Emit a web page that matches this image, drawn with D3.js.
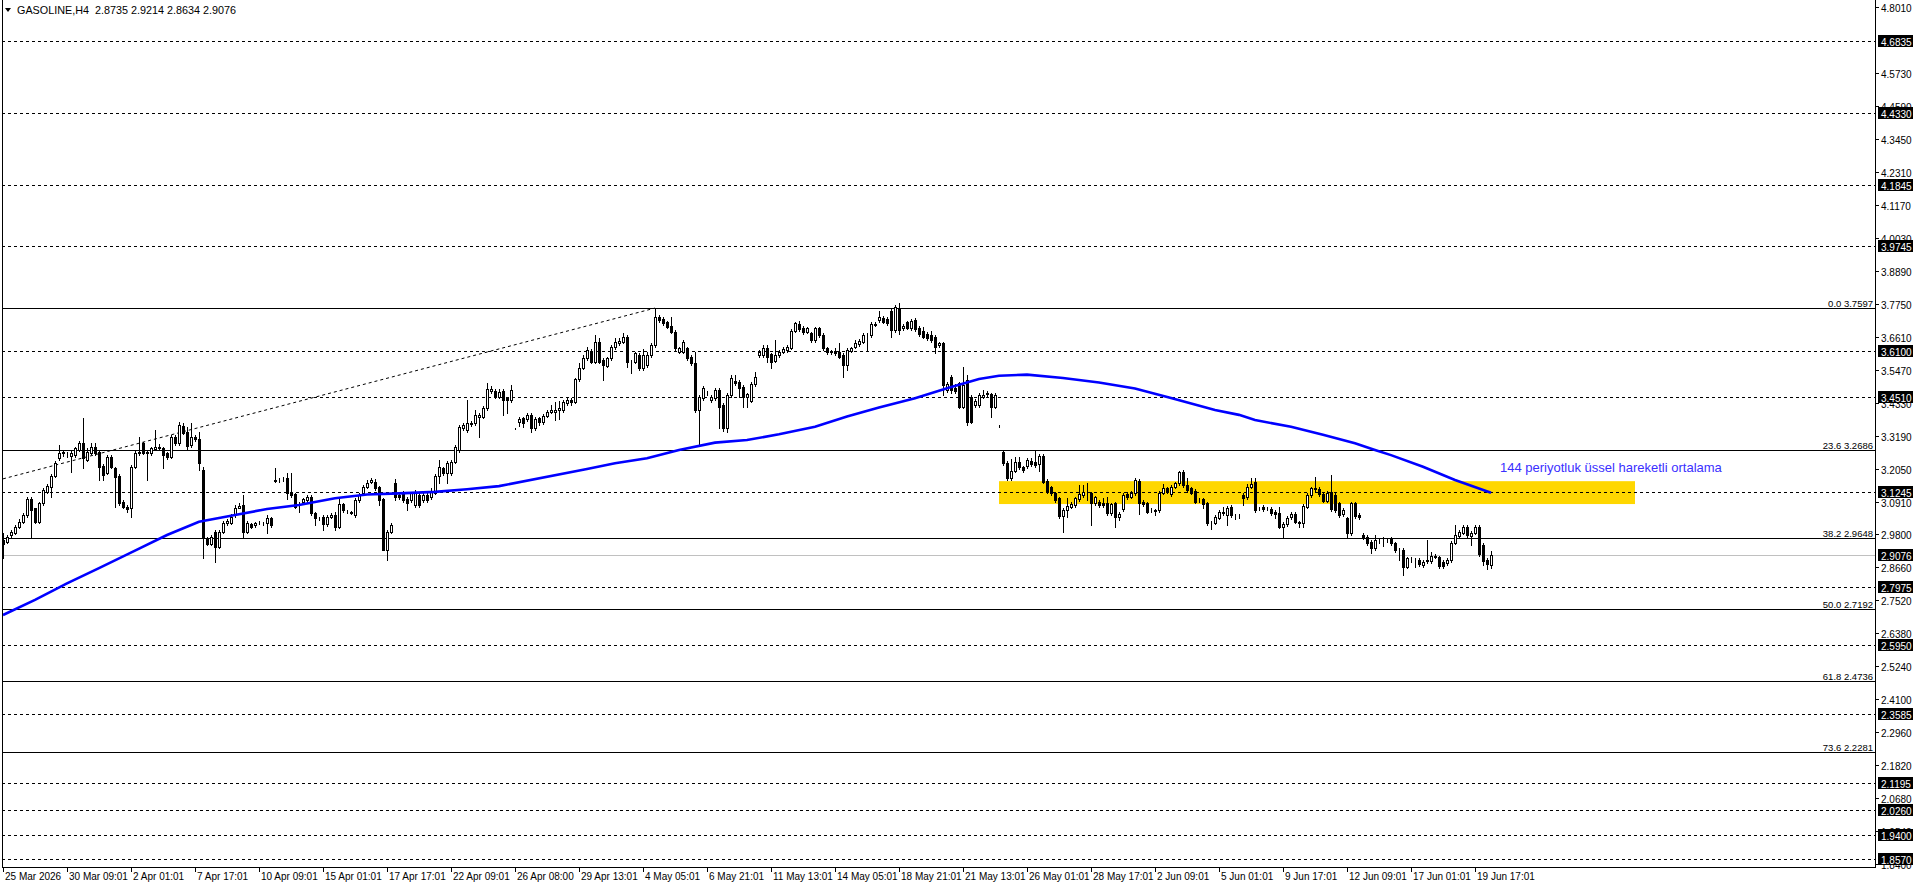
<!DOCTYPE html>
<html>
<head>
<meta charset="utf-8">
<script src="https://cdn.jsdelivr.net/npm/d3@7/dist/d3.min.js"></script>
<style>
body { margin: 0; background: #fff; overflow: hidden; }
svg { display: block; font-family: "Liberation Sans", Arial, sans-serif; }
</style>
</head>
<body>
<svg id="svg" width="1916" height="888"></svg>
<script>
// GASOLINE H4 bars, [open, high, low, close]
var candles = [
[2.959,2.982,2.896,2.945],[2.953,2.976,2.950,2.970],[2.976,2.994,2.970,2.988],[2.982,3.011,2.978,3.005],
[3.005,3.030,3.000,3.022],[3.022,3.053,3.017,3.045],[3.045,3.107,3.040,3.102],[3.102,3.107,2.967,3.062],
[3.068,3.070,3.017,3.022],[3.022,3.090,3.017,3.085],[3.085,3.137,3.080,3.131],[3.126,3.152,3.120,3.145],
[3.143,3.186,3.108,3.180],[3.180,3.232,3.175,3.226],[3.241,3.287,3.235,3.258],[3.264,3.270,3.250,3.258],
[3.254,3.262,3.245,3.252],[3.249,3.270,3.195,3.260],[3.252,3.280,3.247,3.275],[3.270,3.300,3.265,3.295],
[3.295,3.379,3.206,3.241],[3.235,3.275,3.230,3.264],[3.261,3.295,3.255,3.281],[3.281,3.295,3.252,3.258],
[3.264,3.270,3.166,3.212],[3.214,3.220,3.166,3.183],[3.191,3.252,3.186,3.247],[3.247,3.252,3.206,3.212],
[3.206,3.212,3.074,3.178],[3.180,3.186,3.080,3.085],[3.091,3.097,3.068,3.074],[3.074,3.080,3.057,3.065],
[3.068,3.218,3.040,3.212],[3.212,3.270,3.206,3.261],[3.264,3.316,3.252,3.258],[3.293,3.298,3.255,3.261],
[3.264,3.270,3.166,3.258],[3.258,3.281,3.252,3.275],[3.272,3.339,3.268,3.281],[3.281,3.290,3.268,3.275],
[3.275,3.281,3.206,3.252],[3.258,3.264,3.240,3.247],[3.247,3.322,3.241,3.316],[3.316,3.322,3.287,3.293],
[3.293,3.368,3.287,3.356],[3.352,3.362,3.325,3.330],[3.333,3.350,3.270,3.284],[3.287,3.362,3.281,3.316],
[3.313,3.322,3.300,3.306],[3.306,3.333,3.201,3.224],[3.200,3.212,2.896,2.965],[2.965,2.970,2.940,2.945],
[2.945,2.976,2.940,2.970],[2.988,2.994,2.884,2.936],[2.936,2.994,2.930,2.988],[2.988,3.025,2.982,3.019],
[3.017,3.030,3.011,3.025],[3.019,3.050,3.014,3.040],[3.045,3.080,3.040,3.071],[3.071,3.085,3.068,3.078],
[3.080,3.114,2.968,2.988],[2.988,3.025,2.982,3.019],[3.014,3.019,3.000,3.005],[3.011,3.022,3.005,3.017],
[3.017,3.025,3.014,3.019],[3.019,3.022,3.011,3.017],[3.017,3.045,2.982,3.034],[3.034,3.040,3.005,3.011],
[3.166,3.206,3.160,3.164],[3.166,3.172,3.160,3.166],[3.168,3.178,3.164,3.170],[3.172,3.189,3.102,3.120],
[3.122,3.189,3.108,3.114],[3.116,3.122,3.068,3.074],[3.085,3.091,3.057,3.085],[3.091,3.105,3.085,3.099],
[3.097,3.114,3.091,3.106],[3.108,3.114,3.045,3.051],[3.051,3.057,3.010,3.034],[3.034,3.040,3.028,3.034],
[3.040,3.045,2.994,3.014],[3.014,3.045,3.008,3.040],[3.040,3.051,3.034,3.045],[3.045,3.057,2.994,3.005],
[3.005,3.099,2.999,3.083],[3.083,3.088,3.057,3.063],[3.057,3.063,3.051,3.057],[3.054,3.060,3.048,3.053],
[3.045,3.103,3.040,3.097],[3.097,3.120,3.091,3.114],[3.120,3.149,3.114,3.143],[3.143,3.166,3.137,3.155],
[3.160,3.172,3.155,3.166],[3.160,3.170,3.131,3.137],[3.141,3.145,3.080,3.097],[3.099,3.105,2.924,2.924],
[2.924,2.994,2.890,2.988],[2.988,3.019,2.982,3.011],[3.157,3.170,3.097,3.108],[3.114,3.120,3.100,3.108],
[3.122,3.128,3.091,3.097],[3.102,3.106,3.062,3.085],[3.097,3.126,3.091,3.120],[3.080,3.131,3.074,3.126],
[3.114,3.120,3.074,3.080],[3.097,3.120,3.091,3.114],[3.114,3.120,3.091,3.097],[3.108,3.137,3.102,3.126],
[3.122,3.186,3.116,3.180],[3.180,3.235,3.155,3.212],[3.206,3.212,3.183,3.189],[3.189,3.230,3.155,3.224],
[3.189,3.235,3.183,3.229],[3.229,3.287,3.224,3.281],[3.270,3.356,3.264,3.350],[3.344,3.362,3.339,3.356],
[3.339,3.442,3.333,3.364],[3.364,3.370,3.352,3.359],[3.362,3.408,3.356,3.391],[3.385,3.397,3.316,3.391],
[3.385,3.420,3.379,3.414],[3.414,3.500,3.408,3.479],[3.474,3.490,3.466,3.480],[3.474,3.480,3.448,3.454],
[3.454,3.479,3.448,3.471],[3.474,3.480,3.391,3.442],[3.448,3.454,3.396,3.442],[3.442,3.494,3.437,3.477],
[3.345,3.346,3.343,3.344],[3.365,3.385,3.354,3.377],[3.379,3.385,3.350,3.362],[3.377,3.397,3.370,3.391],
[3.391,3.397,3.331,3.345],[3.345,3.385,3.339,3.377],[3.379,3.385,3.356,3.368],[3.365,3.393,3.360,3.388],
[3.388,3.408,3.383,3.402],[3.400,3.425,3.396,3.408],[3.402,3.437,3.374,3.408],[3.408,3.439,3.377,3.414],
[3.408,3.442,3.402,3.434],[3.431,3.454,3.425,3.442],[3.442,3.448,3.425,3.437],[3.437,3.520,3.431,3.514],
[3.514,3.569,3.508,3.554],[3.554,3.597,3.549,3.589],[3.586,3.626,3.580,3.615],[3.612,3.618,3.569,3.575],
[3.575,3.667,3.569,3.644],[3.644,3.655,3.569,3.575],[3.580,3.586,3.511,3.563],[3.561,3.592,3.555,3.586],
[3.586,3.632,3.580,3.626],[3.626,3.658,3.620,3.644],[3.638,3.655,3.632,3.646],[3.644,3.672,3.638,3.661],
[3.661,3.667,3.557,3.572],[3.575,3.580,3.535,3.575],[3.575,3.609,3.569,3.603],[3.598,3.603,3.546,3.552],
[3.552,3.620,3.546,3.598],[3.563,3.609,3.557,3.598],[3.598,3.638,3.592,3.632],[3.632,3.7597,3.626,3.730],
[3.730,3.736,3.713,3.719],[3.722,3.728,3.701,3.707],[3.711,3.716,3.690,3.696],[3.699,3.730,3.672,3.678],
[3.678,3.684,3.615,3.621],[3.609,3.626,3.603,3.621],[3.609,3.650,3.603,3.644],[3.621,3.626,3.580,3.586],
[3.592,3.597,3.563,3.569],[3.569,3.609,3.402,3.408],[3.408,3.460,3.287,3.454],[3.448,3.489,3.442,3.483],
[3.466,3.475,3.460,3.465],[3.442,3.460,3.437,3.454],[3.448,3.483,3.442,3.477],[3.477,3.483,3.345,3.419],
[3.425,3.431,3.335,3.345],[3.347,3.466,3.333,3.460],[3.460,3.529,3.454,3.517],[3.508,3.529,3.494,3.500],
[3.506,3.512,3.454,3.485],[3.488,3.494,3.419,3.451],[3.451,3.468,3.419,3.462],[3.439,3.503,3.434,3.497],
[3.497,3.540,3.491,3.523],[3.598,3.615,3.592,3.609],[3.598,3.632,3.592,3.621],[3.621,3.632,3.575,3.592],
[3.600,3.605,3.552,3.575],[3.577,3.650,3.572,3.598],[3.598,3.615,3.592,3.609],[3.607,3.624,3.603,3.618],
[3.615,3.632,3.609,3.626],[3.623,3.687,3.618,3.681],[3.681,3.713,3.676,3.707],[3.704,3.716,3.681,3.687],
[3.692,3.698,3.670,3.676],[3.678,3.696,3.672,3.690],[3.672,3.678,3.644,3.650],[3.650,3.696,3.644,3.690],
[3.690,3.696,3.661,3.667],[3.667,3.672,3.615,3.621],[3.621,3.626,3.601,3.607],[3.609,3.615,3.600,3.610],
[3.612,3.621,3.598,3.603],[3.607,3.638,3.586,3.592],[3.598,3.603,3.523,3.563],[3.563,3.621,3.546,3.615],
[3.612,3.626,3.607,3.621],[3.626,3.650,3.621,3.638],[3.635,3.652,3.630,3.646],[3.644,3.672,3.638,3.667],
[3.667,3.675,3.610,3.667],[3.667,3.710,3.661,3.704],[3.704,3.710,3.698,3.703],[3.719,3.750,3.713,3.730],
[3.727,3.733,3.707,3.713],[3.722,3.728,3.701,3.707],[3.750,3.761,3.661,3.684],[3.684,3.770,3.678,3.765],
[3.761,3.776,3.669,3.684],[3.690,3.704,3.684,3.699],[3.711,3.716,3.687,3.692],[3.690,3.722,3.684,3.715],
[3.719,3.725,3.681,3.687],[3.692,3.698,3.664,3.669],[3.681,3.696,3.655,3.661],[3.669,3.676,3.649,3.655],
[3.667,3.681,3.644,3.650],[3.661,3.667,3.605,3.626],[3.632,3.644,3.626,3.638],[3.638,3.644,3.460,3.494],
[3.477,3.503,3.471,3.497],[3.523,3.529,3.466,3.477],[3.483,3.497,3.468,3.474],[3.500,3.506,3.413,3.419],
[3.419,3.557,3.413,3.494],[3.511,3.529,3.356,3.368],[3.454,3.460,3.362,3.368],[3.425,3.445,3.419,3.439],
[3.425,3.466,3.419,3.460],[3.454,3.477,3.448,3.460],[3.468,3.474,3.457,3.462],[3.462,3.468,3.385,3.419],
[3.419,3.466,3.413,3.460],[3.353,3.355,3.350,3.352],[3.264,3.270,3.218,3.224],[3.226,3.232,3.166,3.172],
[3.172,3.237,3.166,3.198],[3.198,3.245,3.192,3.229],[3.229,3.247,3.203,3.212],[3.210,3.215,3.195,3.201],
[3.214,3.241,3.208,3.235],[3.232,3.241,3.215,3.221],[3.229,3.270,3.212,3.218],[3.221,3.255,3.198,3.249],
[3.249,3.255,3.155,3.160],[3.164,3.170,3.120,3.126],[3.141,3.147,3.114,3.120],[3.120,3.126,3.091,3.097],
[3.103,3.108,3.036,3.042],[3.042,3.068,2.988,3.062],[3.062,3.103,3.039,3.076],[3.074,3.091,3.068,3.083],
[3.080,3.108,3.074,3.103],[3.099,3.149,3.094,3.118],[3.114,3.149,3.108,3.126],[3.122,3.155,3.097,3.120],
[3.120,3.126,3.011,3.085],[3.085,3.112,3.080,3.106],[3.091,3.097,3.074,3.080],[3.085,3.103,3.074,3.080],
[3.085,3.106,3.045,3.051],[3.051,3.088,3.045,3.083],[3.085,3.091,3.005,3.037],[3.037,3.054,3.028,3.048],
[3.065,3.120,3.059,3.114],[3.118,3.124,3.100,3.106],[3.108,3.128,3.103,3.122],[3.120,3.172,3.114,3.166],
[3.164,3.170,3.048,3.085],[3.091,3.097,3.077,3.083],[3.085,3.091,3.051,3.057],[3.062,3.068,3.055,3.061],
[3.062,3.066,3.045,3.060],[3.062,3.128,3.057,3.122],[3.122,3.152,3.116,3.137],[3.137,3.143,3.120,3.126],
[3.118,3.149,3.112,3.143],[3.143,3.160,3.137,3.155],[3.155,3.198,3.149,3.192],[3.195,3.201,3.143,3.149],
[3.149,3.172,3.126,3.131],[3.137,3.143,3.116,3.122],[3.129,3.134,3.085,3.091],[3.097,3.103,3.091,3.096],
[3.099,3.105,3.068,3.083],[3.085,3.091,3.011,3.016],[3.019,3.025,2.996,3.018],[3.019,3.045,3.014,3.039],
[3.036,3.062,3.031,3.056],[3.057,3.074,3.045,3.051],[3.045,3.077,3.011,3.071],[3.074,3.080,3.039,3.045],
[3.043,3.048,3.031,3.042],[3.043,3.048,3.036,3.041],[3.114,3.120,3.080,3.103],[3.106,3.152,3.101,3.141],
[3.141,3.172,3.137,3.152],[3.160,3.172,3.057,3.062],[3.068,3.074,3.062,3.070],[3.074,3.080,3.059,3.065],
[3.069,3.074,3.062,3.068],[3.066,3.072,3.045,3.051],[3.057,3.062,3.036,3.049],[3.053,3.074,3.000,3.005],
[3.005,3.022,2.965,3.014],[3.014,3.042,3.008,3.036],[3.039,3.054,3.033,3.048],[3.048,3.054,3.016,3.022],
[3.020,3.026,3.005,3.019],[3.019,3.082,3.005,3.076],[3.074,3.120,3.068,3.114],[3.114,3.143,3.108,3.137],
[3.134,3.178,3.126,3.137],[3.134,3.143,3.112,3.118],[3.118,3.124,3.089,3.095],[3.095,3.128,3.089,3.122],
[3.126,3.183,3.059,3.065],[3.114,3.120,3.057,3.062],[3.085,3.091,3.039,3.045],[3.048,3.068,3.042,3.062],
[3.034,3.040,2.965,2.982],[2.982,3.091,2.976,3.085],[3.085,3.091,3.036,3.042],[3.045,3.051,3.031,3.037],
[2.976,2.982,2.962,2.968],[2.970,2.976,2.941,2.947],[2.953,2.959,2.913,2.930],[2.930,2.976,2.924,2.959],
[2.957,2.962,2.950,2.956],[2.955,2.968,2.938,2.956],[2.958,2.965,2.953,2.960],[2.962,2.968,2.941,2.947],
[2.947,2.953,2.918,2.924],[2.924,2.930,2.890,2.923],[2.924,2.930,2.838,2.867],[2.867,2.901,2.861,2.896],
[2.890,2.901,2.884,2.889],[2.890,2.895,2.867,2.889],[2.890,2.896,2.870,2.876],[2.873,2.890,2.867,2.884],
[2.887,2.959,2.878,2.890],[2.887,2.919,2.881,2.904],[2.899,2.910,2.895,2.904],[2.899,2.905,2.863,2.869],
[2.884,2.890,2.861,2.869],[2.878,2.896,2.872,2.890],[2.890,2.956,2.884,2.950],[2.950,3.011,2.944,2.976],
[2.973,2.994,2.968,2.988],[2.984,3.009,2.979,3.003],[3.003,3.009,2.970,2.976],[2.973,2.990,2.942,2.984],
[2.984,3.011,2.979,3.005],[3.005,3.011,2.905,2.911],[2.942,2.947,2.872,2.887],[2.890,2.896,2.858,2.876],
[2.8735,2.9214,2.8634,2.9076]
];

// 144 period EMA, sampled along the blue line (bar index, value)
var emaBars = [0, 8, 16, 24, 33, 41, 49, 58, 66, 74, 83, 91, 99, 108, 116, 124, 146, 153, 161, 169, 178, 186, 194, 203, 211, 219, 228, 236, 244, 249, 256, 265, 274, 283, 292, 303, 309, 313, 322, 330, 338, 343, 347, 355, 363, 372];
var emaValues = [2.700, 2.752, 2.809, 2.862, 2.922, 2.976, 3.022, 3.045, 3.066, 3.080, 3.103, 3.116, 3.120, 3.125, 3.134, 3.145, 3.204, 3.224, 3.241, 3.270, 3.295, 3.304, 3.324, 3.350, 3.385, 3.416, 3.448, 3.483, 3.515, 3.526, 3.530, 3.518, 3.503, 3.482, 3.449, 3.408, 3.391, 3.373, 3.350, 3.322, 3.293, 3.270, 3.252, 3.212, 3.166, 3.122];

var timeLabels = ['25 Mar 2026', '30 Mar 09:01', '2 Apr 01:01', '7 Apr 17:01', '10 Apr 09:01', '15 Apr 01:01',
    '17 Apr 17:01', '22 Apr 09:01', '26 Apr 08:00', '29 Apr 13:01', '4 May 05:01', '6 May 21:01',
    '11 May 13:01', '14 May 05:01', '18 May 21:01', '21 May 13:01', '26 May 01:01', '28 May 17:01',
    '2 Jun 09:01', '5 Jun 01:01', '9 Jun 17:01', '12 Jun 09:01', '17 Jun 01:01', '19 Jun 17:01'];

var priceTicks = ['4.8010', '4.5730', '4.4590', '4.3450', '4.2310', '4.1170', '4.0030', '3.8890', '3.7750',
    '3.6610', '3.5470', '3.4330', '3.3190', '3.2050', '3.0910', '2.9800', '2.8660', '2.7520', '2.6380',
    '2.5240', '2.4100', '2.2960', '2.1820', '2.0680', '1.9540', '1.8400'];

// horizontal dashed levels
var levels = ['4.6835', '4.4330', '4.1845', '3.9745', '3.6100', '3.4510', '3.1245', '2.7975', '2.5950', '2.3585', '2.1195', '2.0260', '1.9400', '1.8570'];

var fibNames = ['0.0', '23.6', '38.2', '50.0', '61.8', '73.6'];
var fibValues = ['3.7597', '3.2686', '2.9648', '2.7192', '2.4736', '2.2281'];

var lastPrice = '2.9076';
var title = 'GASOLINE,H4  2.8735 2.9214 2.8634 2.9076';
var fibTrendBars = [0, 163];
var fibTrendValues = [3.170, 3.7597];
var zoneBars = [249, 408];
var zoneValues = [3.083, 3.162];
var emaNote = '144 periyotluk üssel hareketli ortalama';

var width = 1916;
var height = 888;
var plotLeft = 2;
var plotRight = 1875;
var plotBottom = 867;

var svg = d3.select('svg');

var x = d3.scaleLinear()
    .domain([0, 468])
    .range([3, 1875]);

var y = d3.scaleLinear()
    .domain([1.8297, 4.8201])
    .range([867, 1]);

function cy(v) { return Math.round(y(+v)) + 0.5; }
function cx(i) { return Math.round(x(i)); }

svg.append('defs').append('clipPath')
    .attr('id', 'plot')
    .append('rect')
    .attr('x', plotLeft)
    .attr('y', 0)
    .attr('width', plotRight - plotLeft)
    .attr('height', plotBottom);

var plot = svg.append('g').attr('clip-path', 'url(#plot)');

// yellow zone
plot.append('rect')
    .attr('x', x(zoneBars[0]))
    .attr('y', y(zoneValues[1]))
    .attr('width', x(zoneBars[1]) - x(zoneBars[0]))
    .attr('height', y(zoneValues[0]) - y(zoneValues[1]))
    .attr('fill', '#ffd700');

// dashed levels
plot.selectAll('.level')
    .data(levels)
    .enter()
    .append('line')
    .attr('class', 'level')
    .attr('x1', plotLeft)
    .attr('x2', plotRight)
    .attr('y1', function (d) { return cy(d); })
    .attr('y2', function (d) { return cy(d); })
    .attr('stroke', 'black')
    .attr('stroke-dasharray', '3,3')
    .attr('shape-rendering', 'crispEdges');

// fibo levels
plot.selectAll('.fib')
    .data(fibValues)
    .enter()
    .append('line')
    .attr('class', 'fib')
    .attr('x1', plotLeft)
    .attr('x2', plotRight)
    .attr('y1', function (d) { return cy(d); })
    .attr('y2', function (d) { return cy(d); })
    .attr('stroke', 'black')
    .attr('shape-rendering', 'crispEdges');

plot.selectAll('.fibLabel')
    .data(fibValues)
    .enter()
    .append('text')
    .attr('class', 'fibLabel')
    .attr('x', 1873)
    .attr('y', function (d) { return cy(d) - 2; })
    .attr('text-anchor', 'end')
    .attr('font-size', 9.5)
    .attr('fill', 'black')
    .text(function (d, i) { return fibNames[i] + ' ' + d; });

plot.append('line')
    .attr('x1', x(fibTrendBars[0]))
    .attr('y1', y(fibTrendValues[0]))
    .attr('x2', x(fibTrendBars[1]))
    .attr('y2', y(fibTrendValues[1]))
    .attr('stroke', 'black')
    .attr('stroke-dasharray', '3,3');

// bid line
plot.append('line')
    .attr('x1', plotLeft)
    .attr('x2', plotRight)
    .attr('y1', cy(lastPrice))
    .attr('y2', cy(lastPrice))
    .attr('stroke', '#c0c0c0')
    .attr('shape-rendering', 'crispEdges');

// candles
var bars = plot.selectAll('.bar')
    .data(candles)
    .enter()
    .append('g')
    .attr('class', 'bar');

bars.append('line')
    .attr('x1', function (d, i) { return cx(i) + 0.5; })
    .attr('x2', function (d, i) { return cx(i) + 0.5; })
    .attr('y1', function (d) { return Math.round(y(d[1])); })
    .attr('y2', function (d) { return Math.round(y(d[2])) + 1; })
    .attr('stroke', 'black')
    .attr('shape-rendering', 'crispEdges');

bars.append('rect')
    .attr('x', function (d, i) { return cx(i) - 0.5; })
    .attr('y', function (d) { return Math.round(y(Math.max(d[0], d[3]))) + 0.5; })
    .attr('width', 2)
    .attr('height', function (d) {
        return Math.max(0, Math.round(y(Math.min(d[0], d[3]))) - Math.round(y(Math.max(d[0], d[3]))));
    })
    .attr('fill', function (d) { return d[3] >= d[0] ? 'white' : 'black'; })
    .attr('stroke', 'black')
    .attr('shape-rendering', 'crispEdges');

// ema 144
var emaLine = d3.line()
    .x(function (d) { return x(d); })
    .y(function (d, i) { return y(emaValues[i]); });

plot.append('path')
    .attr('d', emaLine(emaBars))
    .attr('fill', 'none')
    .attr('stroke', '#0000ff')
    .attr('stroke-width', 2.6);

svg.append('text')
    .attr('x', 1500)
    .attr('y', 472)
    .attr('font-size', 13)
    .attr('fill', '#3a2fff')
    .text(emaNote);

// frame
svg.append('path')
    .attr('d', 'M' + (plotLeft + 0.5) + ',0 V' + (plotBottom + 0.5) + ' H' + (plotRight + 0.5) + ' V0')
    .attr('fill', 'none')
    .attr('stroke', 'black')
    .attr('shape-rendering', 'crispEdges');

// price axis
svg.selectAll('.ptick')
    .data(priceTicks)
    .enter()
    .append('line')
    .attr('class', 'ptick')
    .attr('x1', plotRight)
    .attr('x2', plotRight + 4)
    .attr('y1', function (d) { return cy(d); })
    .attr('y2', function (d) { return cy(d); })
    .attr('stroke', 'black')
    .attr('shape-rendering', 'crispEdges');

svg.selectAll('.plabel')
    .data(priceTicks)
    .enter()
    .append('text')
    .attr('class', 'plabel')
    .attr('x', 1881)
    .attr('y', function (d) { return cy(d) + 4; })
    .attr('font-size', 10)
    .attr('fill', 'black')
    .text(function (d) { return d; });

var boxed = levels.slice(0, 7).concat([lastPrice]).concat(levels.slice(7));

svg.selectAll('.pbox')
    .data(boxed)
    .enter()
    .append('rect')
    .attr('class', 'pbox')
    .attr('x', 1878)
    .attr('y', function (d) { return cy(d) - 6.5; })
    .attr('width', 35)
    .attr('height', 12)
    .attr('fill', 'black');

svg.selectAll('.pboxText')
    .data(boxed)
    .enter()
    .append('text')
    .attr('class', 'pboxText')
    .attr('x', 1881)
    .attr('y', function (d) { return cy(d) + 4; })
    .attr('font-size', 10)
    .attr('fill', 'white')
    .text(function (d) { return d; });

// time axis
svg.selectAll('.ttick')
    .data(timeLabels)
    .enter()
    .append('line')
    .attr('class', 'ttick')
    .attr('x1', function (d, i) { return cx(i * 16) + 0.5; })
    .attr('x2', function (d, i) { return cx(i * 16) + 0.5; })
    .attr('y1', plotBottom)
    .attr('y2', plotBottom + 5)
    .attr('stroke', 'black')
    .attr('shape-rendering', 'crispEdges');

svg.selectAll('.tlabel')
    .data(timeLabels)
    .enter()
    .append('text')
    .attr('class', 'tlabel')
    .attr('x', function (d, i) { return cx(i * 16) + 2; })
    .attr('y', 880)
    .attr('font-size', 10)
    .attr('fill', 'black')
    .text(function (d) { return d; });

// header
svg.append('path')
    .attr('d', 'M5,8 L11,8 L8,12 Z')
    .attr('fill', 'black');

svg.append('text')
    .attr('x', 17)
    .attr('y', 14)
    .attr('font-size', 10.8)
    .attr('fill', 'black')
    .style('white-space', 'pre')
    .text(title);
</script>
</body>
</html>
